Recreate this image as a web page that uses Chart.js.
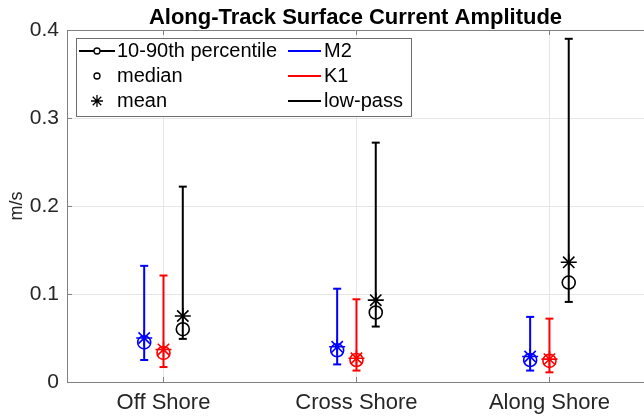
<!DOCTYPE html>
<html>
<head>
<meta charset="utf-8">
<script src="https://cdn.jsdelivr.net/npm/chart.js@4/dist/chart.umd.min.js"></script>
<style>
  html, body { margin: 0; padding: 0; background: #fff; }
  #wrap { width: 644px; height: 417px; }
</style>
</head>
<body>
<div id="wrap"><canvas id="ampChart" width="644" height="417"></canvas></div>
<script>
const categories = ['Off Shore', 'Cross Shore', 'Along Shore'];
const seriesNames = ['M2', 'K1', 'low-pass'];
const seriesColors = ['#0000ff', '#ff0000', '#000000'];

// 10th / 90th percentile, median and mean (m/s), per series, per category
const p10M2 = [0.025, 0.020, 0.013];
const p90M2 = [0.132, 0.106, 0.074];
const medM2 = [0.045, 0.036, 0.025];
const meanM2 = [0.050, 0.040, 0.029];

const p10K1 = [0.017, 0.013, 0.011];
const p90K1 = [0.121, 0.094, 0.072];
const medK1 = [0.033, 0.025, 0.024];
const meanK1 = [0.037, 0.027, 0.026];

const p10LP = [0.049, 0.063, 0.091];
const p90LP = [0.222, 0.272, 0.390];
const medLP = [0.060, 0.079, 0.113];
const meanLP = [0.075, 0.093, 0.136];

const yTicks = [0, 0.1, 0.2, 0.3, 0.4];

const p10 = [p10M2, p10K1, p10LP];
const p90 = [p90M2, p90K1, p90LP];
const med = [medM2, medK1, medLP];
const mean = [meanM2, meanK1, meanLP];

const FONT = '"Liberation Sans", Arial, Helvetica, sans-serif';
const offsets = [-0.1, 0, 0.1];

const datasets = [];
// error bars (vertical line with short caps), broken by nulls between categories
seriesNames.forEach((name, s) => {
    const pts = [];
    categories.forEach((c, i) => {
        const x = i + 1 + offsets[s];
        pts.push({ x: x, y: p10[s][i] });
        pts.push({ x: x, y: p90[s][i] });
        pts.push({ x: x, y: null });
    });
    datasets.push({
        label: name + ' 10-90',
        data: pts,
        showLine: true,
        spanGaps: false,
        borderColor: seriesColors[s],
        borderWidth: 2,
        pointStyle: 'line',
        pointRadius: 4,
        pointBorderWidth: 2,
        pointBorderColor: seriesColors[s],
        order: 3
    });
});
seriesNames.forEach((name, s) => {
    datasets.push({
        label: name + ' median',
        data: categories.map((c, i) => ({ x: i + 1 + offsets[s], y: med[s][i] })),
        showLine: false,
        pointStyle: 'circle',
        pointRadius: 6.5,
        pointBorderWidth: 1.6,
        pointBorderColor: seriesColors[s],
        pointBackgroundColor: 'rgba(0,0,0,0)',
        order: 2
    });
    datasets.push({
        label: name + ' mean',
        data: categories.map((c, i) => ({ x: i + 1 + offsets[s], y: mean[s][i] })),
        showLine: false,
        pointStyle: 'star',
        pointRadius: 8,
        pointBorderWidth: 1.6,
        pointBorderColor: seriesColors[s],
        order: 1
    });
});

// MATLAB-like box: top edge, inward ticks, and the two-column legend
const matlabBox = {
    id: 'matlabBox',
    afterDraw(chart) {
        const ctx = chart.ctx;
        const a = chart.chartArea;
        const xs = chart.scales.x;
        const ys = chart.scales.y;
        ctx.save();
        ctx.strokeStyle = '#808080';
        ctx.lineWidth = 1;
        ctx.beginPath();
        ctx.moveTo(a.left, a.top + 0.5);
        ctx.lineTo(a.right, a.top + 0.5);
        yTicks.forEach(v => {
            const y = Math.round(ys.getPixelForValue(v)) + 0.5;
            ctx.moveTo(a.left, y);
            ctx.lineTo(a.left + 5, y);
        });
        categories.forEach((c, i) => {
            const x = Math.round(xs.getPixelForValue(i + 1)) + 0.5;
            ctx.moveTo(x, a.bottom);
            ctx.lineTo(x, a.bottom - 5);
            ctx.moveTo(x, a.top);
            ctx.lineTo(x, a.top + 5);
        });
        ctx.stroke();

        // legend
        const bx = 76, by = 38, bw = 335, bh = 78;
        ctx.fillStyle = '#fff';
        ctx.fillRect(bx, by, bw, bh);
        ctx.strokeStyle = '#6e6e6e';
        ctx.strokeRect(bx + 0.5, by + 0.5, bw, bh);

        const rows = [51, 76, 101];
        ctx.font = '20px ' + FONT;
        ctx.textBaseline = 'middle';

        ctx.strokeStyle = '#000';
        ctx.lineWidth = 2;
        ctx.beginPath();
        ctx.moveTo(79, rows[0]);
        ctx.lineTo(115, rows[0]);
        ctx.stroke();
        ctx.lineWidth = 1.3;
        ctx.beginPath();
        ctx.arc(97, rows[0], 3, 0, Math.PI * 2);
        ctx.fillStyle = '#fff';
        ctx.fill();
        ctx.stroke();
        ctx.beginPath();
        ctx.arc(97, rows[1], 3, 0, Math.PI * 2);
        ctx.stroke();
        ctx.beginPath();
        for (let k = 0; k < 4; k++) {
            const ang = k * Math.PI / 4;
            ctx.moveTo(97 - 6 * Math.cos(ang), rows[2] - 6 * Math.sin(ang));
            ctx.lineTo(97 + 6 * Math.cos(ang), rows[2] + 6 * Math.sin(ang));
        }
        ctx.stroke();

        ctx.fillStyle = '#000';
        ctx.fillText('10-90th percentile', 117, rows[0]);
        ctx.fillText('median', 117, rows[1]);
        ctx.fillText('mean', 117, rows[2]);

        seriesNames.forEach((name, s) => {
            ctx.strokeStyle = seriesColors[s];
            ctx.lineWidth = 2;
            ctx.beginPath();
            ctx.moveTo(288, rows[s]);
            ctx.lineTo(321, rows[s]);
            ctx.stroke();
            ctx.fillStyle = '#000';
            ctx.fillText(name, 324, rows[s]);
        });
        ctx.restore();
    }
};

const ctx = document.getElementById('ampChart').getContext('2d');

const config = {
    type: 'scatter',
    data: { datasets: datasets },
    options: {
        responsive: false,
        animation: false,
        layout: { padding: 0, autoPadding: false },
        plugins: {
            legend: { display: false },
            tooltip: { enabled: false },
            title: {
                display: true,
                fullSize: false,
                text: 'Along-Track Surface Current Amplitude',
                color: '#000',
                font: { family: FONT, size: 22, weight: 'bold', lineHeight: 1 },
                padding: { top: 7, bottom: 1 }
            }
        },
        scales: {
            x: {
                type: 'linear',
                min: 0.5,
                max: 3.49,
                afterBuildTicks: scale => {
                    scale.ticks = categories.map((c, i) => ({ value: i + 1 }));
                },
                afterFit: scale => { scale.height = 35; },
                ticks: {
                    color: '#262626',
                    font: { family: FONT, size: 22 },
                    padding: 8,
                    callback: value => categories[value - 1]
                },
                grid: { color: '#e6e6e6', drawTicks: false },
                border: { color: '#808080' }
            },
            y: {
                min: 0,
                max: 0.4,
                afterBuildTicks: scale => {
                    scale.ticks = yTicks.map(v => ({ value: v }));
                },
                afterFit: scale => { scale.width = 67; },
                ticks: {
                    color: '#262626',
                    font: { family: FONT, size: 21 },
                    padding: 8,
                    callback: value => value === 0 ? '0' : value.toFixed(1)
                },
                title: {
                    display: true,
                    text: 'm/s',
                    color: '#262626',
                    font: { family: FONT, size: 18 },
                    padding: { top: 6, bottom: 0 }
                },
                grid: { color: '#e6e6e6', drawTicks: false },
                border: { color: '#808080' }
            }
        }
    },
    plugins: [matlabBox]
};

const ampChart = new Chart(ctx, config);
</script>
</body>
</html>
